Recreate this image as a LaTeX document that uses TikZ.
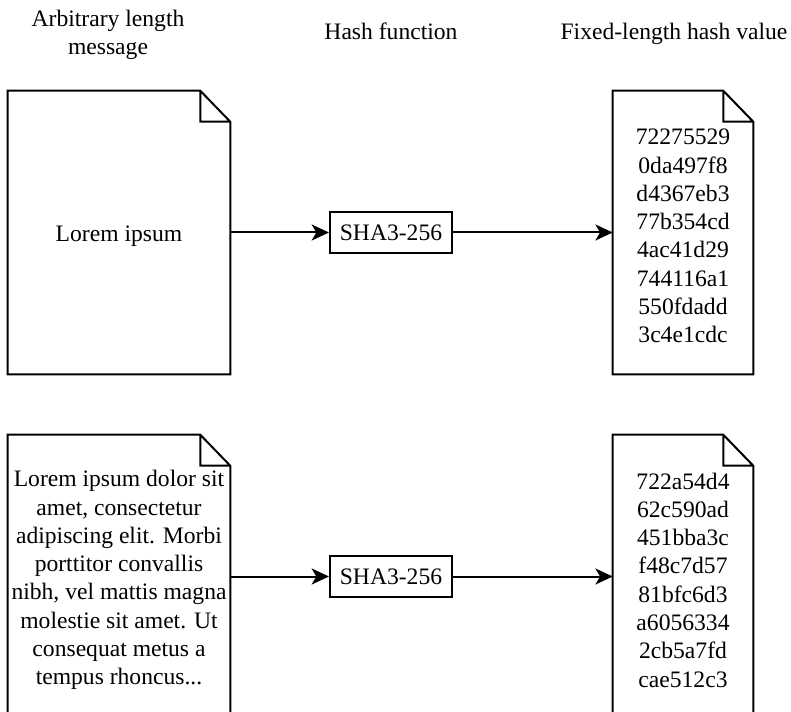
\documentclass[tikz,border=0pt]{standalone}
\usepackage{fontspec}
\setmainfont{Liberation Serif}
\usetikzlibrary{arrows.meta}

\tikzset{
  docline/.style={line width=1.5pt, line join=miter},
  doc/.style={inner sep=0pt, minimum height=212.25pt},
  doctext/.style={inner sep=0pt, align=center},
  hashbox/.style={draw, line width=1.5pt, minimum width=91.5pt, minimum height=30.75pt, inner sep=0pt},
  flow/.style={line width=1.5pt, -{Stealth[length=13pt,width=12pt,inset=3.5pt]}},
}

\begin{document}
\begin{tikzpicture}[x=0.75pt, y=-0.75pt, every node/.style={font=\fontsize{17.7}{21.2}\selectfont}]
\useasboundingbox (0,0) rectangle (791,712);
\clip (0,0) rectangle (791,712);

% Column titles
\node [anchor=base, align=center] (titlemsg) at (108,55) {Arbitrary length\\message};
\node [anchor=base] (titlefun) at (391,40) {Hash function};
\node [anchor=base] (titlehash) at (674,40) {Fixed-length hash value};

% Short message
\node [doc, minimum width=166.5pt] (msgA) at (119,232.5) {};
\node [doctext] (msgAtext) at (119,236) {Lorem ipsum};
\node [hashbox] (shaA) at (391,232.5) {SHA3-256};
\node [doc, minimum width=105pt] (hashA) at (683,232.5) {};
\node [doctext] (hashAtext) at (683,236) {72275529\\0da497f8\\d4367eb3\\77b354cd\\4ac41d29\\744116a1\\550fdadd\\3c4e1cdc};

% Long message
\node [doc, minimum width=166.5pt] (msgB) at (119,576.5) {};
\node [doctext] (msgBtext) at (119,580) {Lorem ipsum dolor sit\\amet, consectetur\\adipiscing elit. Morbi\\porttitor convallis\\nibh, vel mattis magna\\molestie sit amet. Ut\\consequat metus a\\tempus rhoncus...};
\node [hashbox] (shaB) at (391,576.5) {SHA3-256};
\node [doc, minimum width=105pt] (hashB) at (683,576.5) {};
\node [doctext] (hashBtext) at (683,580) {722a54d4\\62c590ad\\451bba3c\\f48c7d57\\81bfc6d3\\a6056334\\2cb5a7fd\\cae512c3};

% Drawing the documents with folded corner
\foreach \d in {msgA,hashA,msgB,hashB}
  \draw [docline] (\d.north west) -- ([xshift=-22.5pt]\d.north east) -- ([yshift=-23.25pt]\d.north east)
    -- (\d.south east) -- (\d.south west) -- cycle
    ([xshift=-22.5pt]\d.north east) |- ([yshift=-23.25pt]\d.north east);

% Drawing arrows
\draw [flow] (msgA) -- (shaA);
\draw [flow] (shaA) -- (hashA);
\draw [flow] (msgB) -- (shaB);
\draw [flow] (shaB) -- (hashB);
\end{tikzpicture}
\end{document}
